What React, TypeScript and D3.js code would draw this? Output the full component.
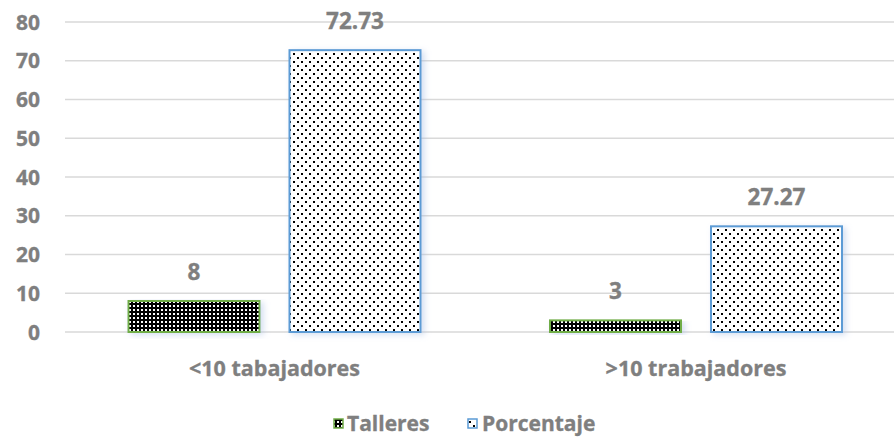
import React from "react";
import * as d3 from "d3";

const categories = ["<10 tabajadores", ">10 trabajadores"];
const seriesNames = ["Talleres", "Porcentaje"];
const talleres = [8, 3];
const porcentaje = [72.73, 27.27];
const valueLabels = [["8", "3"], ["72.73", "27.27"]];
const yTicks = [0, 10, 20, 30, 40, 50, 60, 70, 80];

const W = 894;
const H = 437;
const FONT = "'Open Sans', Lato, sans-serif";
const GRAY = "#7f7f7f";

export default function App() {
  const y = d3.scaleLinear().domain([0, 80]).range([332, 22]);
  const x0 = d3.scaleBand().domain(categories).range([63.75, 906.75]).paddingInner(0).paddingOuter(0);
  const groupInner = 292;
  const bw = 131;
  const gap = 30;
  const series = [talleres, porcentaje];
  const fills = ["url(#patT)", "url(#patP)"];
  const strokes = ["#70ad47", "#5b9bd5"];
  const txt = { fontFamily: FONT, fontWeight: 700, fill: GRAY, stroke: GRAY, strokeWidth: 0.35 } as const;

  return (
    <svg width={W} height={H} style={{ position: "absolute", left: 0, top: 0, background: "#fff" }}>
      <defs>
        <pattern id="patT" width={4} height={4} patternUnits="userSpaceOnUse">
          <rect width={4} height={4} fill="#000" />
          <rect x={1} y={1} width={2} height={2} fill="#fff" />
        </pattern>
        <pattern id="patP" width={8} height={8} patternUnits="userSpaceOnUse">
          <rect width={8} height={8} fill="#fff" />
          <rect x={1} y={1} width={2} height={2} fill="#000" />
          <rect x={5} y={5} width={2} height={2} fill="#000" />
        </pattern>
        <filter id="shadow" x="-10%" y="-10%" width="130%" height="130%">
          <feGaussianBlur in="SourceAlpha" stdDeviation={3} />
          <feOffset dx={3} dy={2} result="b" />
          <feFlood floodColor="#9fb7e0" floodOpacity={0.45} />
          <feComposite in2="b" operator="in" />
          <feMerge>
            <feMergeNode />
            <feMergeNode in="SourceGraphic" />
          </feMerge>
        </filter>
      </defs>
      {yTicks.map((t) => (
        <g key={t}>
          <line x1={65} x2={W} y1={y(t)} y2={y(t)} stroke="#d9d9d9" strokeWidth={1.5} />
          <text x={40} y={y(t)} dy="0.36em" textAnchor="end" fontSize={21} {...txt}>
            {t}
          </text>
        </g>
      ))}
      {categories.map((c, ci) => {
        const gx = x0(c)! + (x0.bandwidth() - groupInner) / 2;
        return (
          <g key={c}>
            {series.map((s, si) => {
              const bx = gx + si * (bw + gap);
              const top = y(s[ci]);
              return (
                <g key={si}>
                  <rect x={bx} y={top} width={bw} height={y(0) - top} fill={fills[si]} stroke={strokes[si]} strokeWidth={2} filter="url(#shadow)" />
                  <text x={bx + bw / 2} y={top - 21} textAnchor="middle" fontSize={22.5} {...txt}>
                    {valueLabels[si][ci]}
                  </text>
                </g>
              );
            })}
            <text x={x0(c)! + x0.bandwidth() / 2} y={376} textAnchor="middle" fontSize={21.5} {...txt}>
              {c}
            </text>
          </g>
        );
      })}
      <g>
        <rect x={334} y={419} width={9} height={9} fill="url(#patT)" stroke="#70ad47" strokeWidth={1.5} />
        <text x={347} y={431} fontSize={21} {...txt}>
          {seriesNames[0]}
        </text>
        <rect x={468} y={419} width={9} height={9} fill="url(#patP)" stroke="#5b9bd5" strokeWidth={1.5} />
        <text x={482} y={431} fontSize={21} {...txt}>
          {seriesNames[1]}
        </text>
      </g>
    </svg>
  );
}
